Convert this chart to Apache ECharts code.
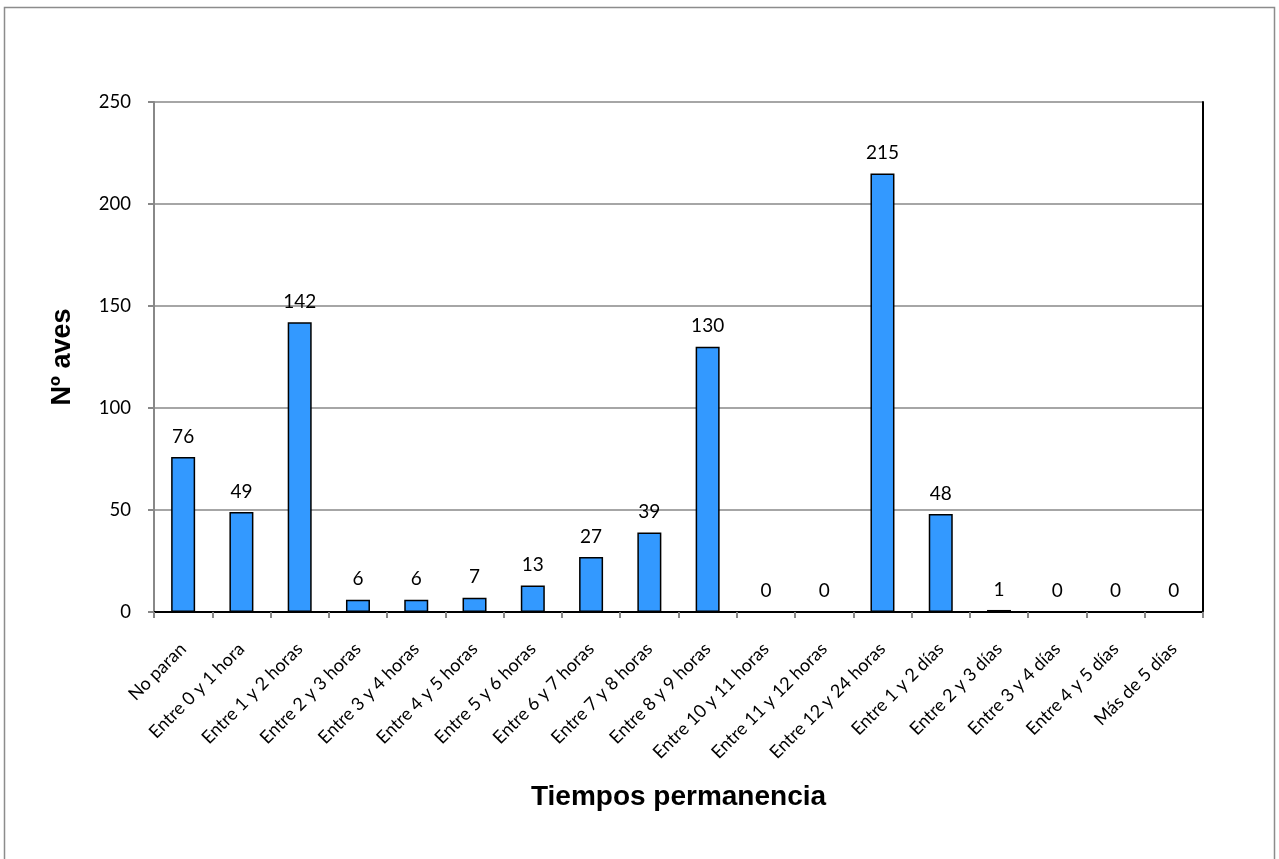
<!DOCTYPE html>
<html><head><meta charset="utf-8">
<script src="https://cdn.jsdelivr.net/npm/echarts@6/dist/echarts.min.js"></script>
<style>html,body{margin:0;padding:0;background:#fff}#c{width:1279px;height:859px}</style>
</head><body><div id="c"></div>
<script>
const categories = ["No paran","Entre 0 y 1 hora","Entre 1 y 2 horas","Entre 2 y 3 horas","Entre 3 y 4 horas","Entre 4 y 5 horas","Entre 5 y 6 horas","Entre 6 y 7 horas","Entre 7 y 8 horas","Entre 8 y 9 horas","Entre 10 y 11 horas","Entre 11 y 12 horas","Entre 12 y 24 horas","Entre 1 y 2 días","Entre 2 y 3 días","Entre 3 y 4 días","Entre 4 y 5 días","Más de 5 días"];
const values = [76,49,142,6,6,7,13,27,39,130,0,0,215,48,1,0,0,0];
const yTicks = {min:0, max:250, interval:50};
const xTitle = "Tiempos permanencia";
const yTitle = "Nº aves";

const chart = echarts.init(document.getElementById('c'), null, {renderer:'canvas'});
const font = 'Lato, "Open Sans", sans-serif';
const boldFont = '"Liberation Sans", Arial, sans-serif';
chart.setOption({
  animation:false,
  backgroundColor:'#fff',
  graphic:[{type:'rect', shape:{x:4.5,y:7.5,width:1270,height:900}, style:{fill:'none', stroke:'#8c8c8c', lineWidth:1.5}, z:-1}],
  grid:{left:154, right:76, top:102, bottom:247, containLabel:false},
  xAxis:[{
    type:'category', data:categories,
    axisLine:{lineStyle:{color:'#888', width:2}},
    axisTick:{show:true, alignWithLabel:false, length:6, lineStyle:{color:'#888', width:2}},
    axisLabel:{rotate:45, interval:0, fontSize:18, fontFamily:font, color:'#000', margin:34},
    name:xTitle, nameLocation:'middle', nameGap:171,
    nameTextStyle:{fontSize:28, fontWeight:'bold', fontFamily:boldFont, color:'#000'}
  },{
    type:'category', data:categories, position:'top',
    axisLine:{lineStyle:{color:'#000', width:2}}, axisTick:{show:false}, axisLabel:{show:false}
  }],
  yAxis:[{
    type:'value', min:yTicks.min, max:yTicks.max, interval:yTicks.interval,
    axisLine:{show:true, lineStyle:{color:'#888', width:2}},
    axisTick:{show:true, length:6, lineStyle:{color:'#888', width:2}},
    splitLine:{lineStyle:{color:'#888', width:1.5}},
    axisLabel:{fontSize:18.5, fontFamily:font, color:'#000', margin:23},
    name:yTitle, nameLocation:'middle', nameGap:78, nameRotate:90,
    nameTextStyle:{fontSize:27, fontWeight:'bold', fontFamily:boldFont, color:'#000'}
  },{
    type:'value', min:yTicks.min, max:yTicks.max, interval:yTicks.interval, position:'right',
    axisLine:{show:true, lineStyle:{color:'#000', width:2}}, axisTick:{show:false}, axisLabel:{show:false}, splitLine:{show:false}
  }],
  series:[{
    type:'bar', data:values, barWidth:24,
    itemStyle:{color:'#3399FF', borderColor:'#000', borderWidth:1.5},
    label:{show:true, position:'top', distance:11, fontSize:19, fontFamily:font, color:'#000'}
  }]
});
</script></body></html>
